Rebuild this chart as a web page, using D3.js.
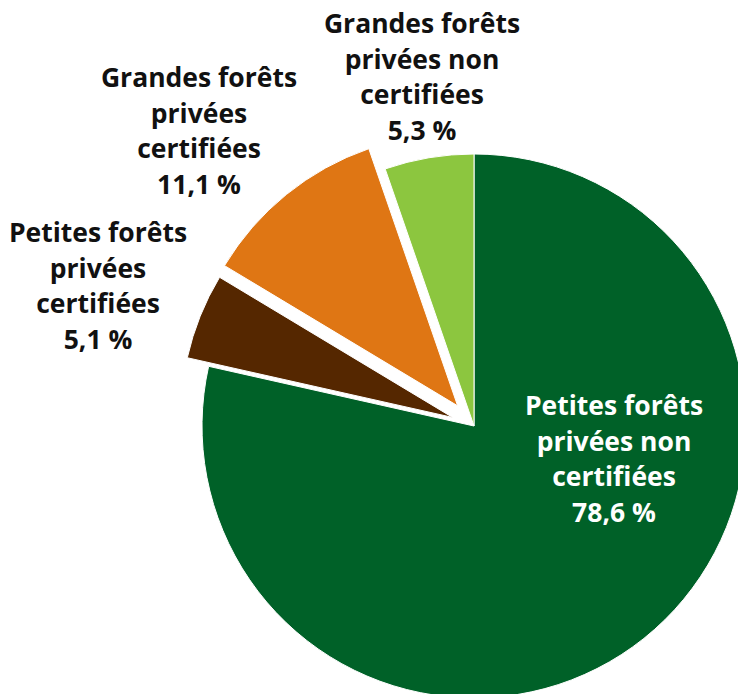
<!DOCTYPE html>
<html>
<head>
<meta charset="utf-8">
<script src="https://cdn.jsdelivr.net/npm/d3@7"></script>
<style>
  body { margin: 0; background: #fff; }
  svg { display: block; }
</style>
</head>
<body>
<div id="chart"></div>
<script>
const categories = [
  "Petites forêts privées non certifiées",
  "Petites forêts privées certifiées",
  "Grandes forêts privées certifiées",
  "Grandes forêts privées non certifiées"
];
const values = [78.6, 5.1, 11.1, 5.3];
const valueLabels = ["78,6 %", "5,1 %", "11,1 %", "5,3 %"];
const labelLines = [
  ["Petites forêts", "privées non", "certifiées"],
  ["Petites forêts", "privées", "certifiées"],
  ["Grandes forêts", "privées", "certifiées"],
  ["Grandes forêts", "privées non", "certifiées"]
];

{
  const width = 738,
        height = 694;
  const cx = 474, cy = 426, radius = 272;

  // layout per slice: colour, explode distance, label anchor (relative to centre)
  const colors = ["#006128", "#552700", "#df7614", "#8cc63f"];
  const explode = [0, 23, 26, 0];
  const labelAt = [[140, -11], [-376, -184], [-275, -339], [-52, -393]];
  const labelColor = ["#fff", "#111", "#111", "#111"];
  const lineH = 35.5;

  const svg = d3.select("#chart")
    .append("svg")
      .attr("width", width)
      .attr("height", height)
    .append("g")
      .attr("transform", "translate(" + cx + "," + cy + ")");

  const pie = d3.pie().sort(null).value(d => d);
  const arcs = pie(values);
  const arc = d3.arc().innerRadius(0).outerRadius(radius);

  svg.selectAll("path")
    .data(arcs)
    .join("path")
      .attr("d", arc)
      .attr("fill", (d, i) => colors[i])
      .attr("stroke", "#fff")
      .attr("stroke-width", 1)
      .attr("transform", (d, i) => {
        const a = (d.startAngle + d.endAngle) / 2;
        return "translate(" + (Math.sin(a) * explode[i]) + "," + (-Math.cos(a) * explode[i]) + ")";
      });

  const labels = svg.selectAll("text.lbl")
    .data(arcs)
    .join("text")
      .attr("class", "lbl")
      .attr("text-anchor", "middle")
      .style("font", "bold 26.5px 'Open Sans', sans-serif")
      .attr("fill", (d, i) => labelColor[i])
      .attr("transform", (d, i) => "translate(" + labelAt[i][0] + "," + labelAt[i][1] + ")");

  labels.each(function(d, i) {
    const t = d3.select(this);
    labelLines[i].concat([valueLabels[i]]).forEach((line, k) => {
      t.append("tspan")
        .attr("x", 0)
        .attr("y", k * lineH)
        .text(line);
    });
  });
}
</script>
</body>
</html>
